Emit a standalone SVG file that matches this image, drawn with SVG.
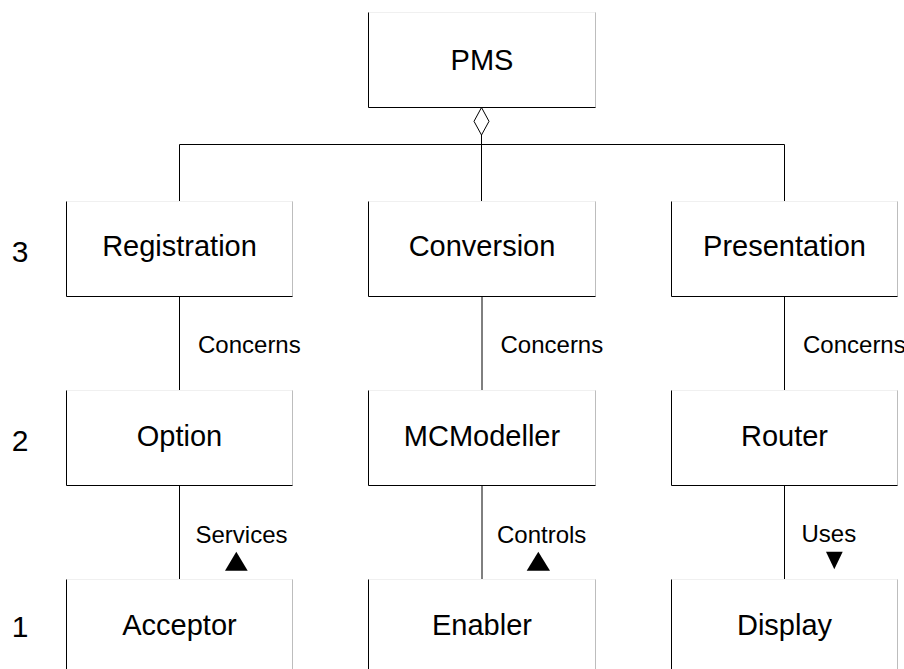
<svg xmlns="http://www.w3.org/2000/svg" width="904" height="669" viewBox="0 0 904 669">
  <style>
    text { font-family: "Liberation Sans", Arial, sans-serif; fill: #000; }
    .label { font-size: 29px; text-anchor: middle; }
    .level { font-size: 30px; text-anchor: middle; }
    .role { font-size: 24px; }
    .box { fill: #fff; stroke: #f0f0f0; stroke-width: 1; }
    .edge-dark { fill: none; stroke: #000; stroke-width: 1; }
    .edge-light { fill: none; stroke: #bdbdbd; stroke-width: 1; }
    .link { fill: none; stroke: #000; stroke-width: 1; }
    .dir { fill: #000; stroke: none; }
  </style>

  <!-- level numbers -->
  <g id="levels">
    <text class="level" x="20" y="262">3</text>
    <text class="level" x="20" y="451">2</text>
    <text class="level" x="20" y="637">1</text>
  </g>

  <!-- connectors -->
  <g id="connectors">
    <!-- aggregation from PMS -->
    <polygon points="481.5,107.5 489,121.3 481.5,135 474,121.3" fill="#fff" stroke="#000" stroke-width="1"/>
    <line class="link" x1="481.5" y1="135" x2="481.5" y2="201.5"/>
    <line class="link" x1="179.5" y1="144.5" x2="784.5" y2="144.5" stroke="#333"/>
    <line class="link" x1="179.5" y1="144.5" x2="179.5" y2="201.5"/>
    <line class="link" x1="784.5" y1="144.5" x2="784.5" y2="201.5"/>

    <!-- level 3 to level 2 -->
    <line class="link" x1="179.5" y1="296.5" x2="179.5" y2="390.5"/>
    <line class="link" x1="482" y1="296.5" x2="482" y2="390.5" stroke="#555"/>
    <line class="link" x1="784.5" y1="296.5" x2="784.5" y2="390.5"/>
    <text class="role" x="198" y="352.5">Concerns</text>
    <text class="role" x="500.5" y="352.5">Concerns</text>
    <text class="role" x="803" y="352.5">Concerns</text>

    <!-- level 2 to level 1 -->
    <line class="link" x1="179.5" y1="485.5" x2="179.5" y2="579.5"/>
    <line class="link" x1="482" y1="485.5" x2="482" y2="579.5" stroke="#555"/>
    <line class="link" x1="784.5" y1="485.5" x2="784.5" y2="579.5"/>
    <text class="role" x="195.5" y="543">Services</text>
    <polygon class="dir" points="225,570.7 247.7,570.7 236.3,551.7"/>
    <text class="role" x="497" y="543">Controls</text>
    <polygon class="dir" points="526.7,570.7 550,570.7 538.3,551.7"/>
    <text class="role" x="801.5" y="542">Uses</text>
    <polygon class="dir" points="826,551.7 842.7,551.7 834.3,569.3"/>
  </g>

  <!-- PMS -->
  <g id="pms">
    <rect class="box" x="368.5" y="12.5" width="227" height="95"/>
    <line class="edge-light" x1="595.5" y1="12.5" x2="595.5" y2="107.5"/>
    <polyline class="edge-dark" points="368.5,12.5 368.5,107.5 595.5,107.5"/>
    <text class="label" x="482" y="70">PMS</text>
  </g>

  <!-- level 3 -->
  <g id="registration">
    <rect class="box" x="66.5" y="201.5" width="226" height="95"/>
    <line class="edge-light" x1="292.5" y1="201.5" x2="292.5" y2="296.5"/>
    <polyline class="edge-dark" points="66.5,201.5 66.5,296.5 292.5,296.5"/>
    <text class="label" x="179.5" y="256">Registration</text>
  </g>
  <g id="conversion">
    <rect class="box" x="368.5" y="201.5" width="227" height="95"/>
    <line class="edge-light" x1="595.5" y1="201.5" x2="595.5" y2="296.5"/>
    <polyline class="edge-dark" points="368.5,201.5 368.5,296.5 595.5,296.5"/>
    <text class="label" x="482" y="256">Conversion</text>
  </g>
  <g id="presentation">
    <rect class="box" x="671.5" y="201.5" width="226" height="95"/>
    <line class="edge-light" x1="897.5" y1="201.5" x2="897.5" y2="296.5"/>
    <polyline class="edge-dark" points="671.5,201.5 671.5,296.5 897.5,296.5"/>
    <text class="label" x="784.5" y="256">Presentation</text>
  </g>

  <!-- level 2 -->
  <g id="option">
    <rect class="box" x="66.5" y="390.5" width="226" height="95"/>
    <line class="edge-light" x1="292.5" y1="390.5" x2="292.5" y2="485.5"/>
    <polyline class="edge-dark" points="66.5,390.5 66.5,485.5 292.5,485.5"/>
    <text class="label" x="179.5" y="446">Option</text>
  </g>
  <g id="mcmodeller">
    <rect class="box" x="368.5" y="390.5" width="227" height="95"/>
    <line class="edge-light" x1="595.5" y1="390.5" x2="595.5" y2="485.5"/>
    <polyline class="edge-dark" points="368.5,390.5 368.5,485.5 595.5,485.5"/>
    <text class="label" x="482" y="446">MCModeller</text>
  </g>
  <g id="router">
    <rect class="box" x="671.5" y="390.5" width="226" height="95"/>
    <line class="edge-light" x1="897.5" y1="390.5" x2="897.5" y2="485.5"/>
    <polyline class="edge-dark" points="671.5,390.5 671.5,485.5 897.5,485.5"/>
    <text class="label" x="784.5" y="446">Router</text>
  </g>

  <!-- level 1 (runs past the lower edge) -->
  <g id="acceptor">
    <rect class="box" x="66.5" y="579.5" width="226" height="100"/>
    <line class="edge-light" x1="292.5" y1="579.5" x2="292.5" y2="669"/>
    <line class="edge-dark" x1="66.5" y1="579.5" x2="66.5" y2="669"/>
    <text class="label" x="179.5" y="635">Acceptor</text>
  </g>
  <g id="enabler">
    <rect class="box" x="368.5" y="579.5" width="227" height="100"/>
    <line class="edge-light" x1="595.5" y1="579.5" x2="595.5" y2="669"/>
    <line class="edge-dark" x1="368.5" y1="579.5" x2="368.5" y2="669"/>
    <text class="label" x="482" y="635">Enabler</text>
  </g>
  <g id="display">
    <rect class="box" x="671.5" y="579.5" width="226" height="100"/>
    <line class="edge-light" x1="897.5" y1="579.5" x2="897.5" y2="669"/>
    <line class="edge-dark" x1="671.5" y1="579.5" x2="671.5" y2="669"/>
    <text class="label" x="784.5" y="635">Display</text>
  </g>
</svg>
